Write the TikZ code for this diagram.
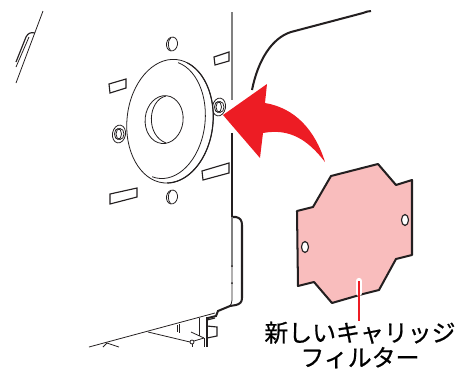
\documentclass[tikz,border=0pt]{standalone}
\usepackage{fontspec}
\usepackage{xcolor}
\usepackage{tikz}
\newfontfamily\cjkfont[FakeBold=0.6]{Noto Sans CJK JP}
\definecolor{arrowred}{HTML}{ED1C24}
\definecolor{filterpink}{HTML}{F9BDBD}
\definecolor{inkblack}{HTML}{231F20}
\tikzset{
  thinline/.style={inkblack, line width=0.45pt},
  midline/.style={inkblack, line width=0.65pt},
  heavyline/.style={inkblack, line width=1.15pt},
  grayline/.style={gray, line width=0.7pt},
  labeltext/.style={font=\cjkfont\fontsize{13.6}{14.6}\selectfont, inner sep=0pt, align=center},
}
\begin{document}
\begin{tikzpicture}[x=0.02cm,y=-0.02cm]
    \useasboundingbox (0,0) rectangle (468,369);
    % Upper left edge with slot
    \draw[thinline] (43,11) -- (16,83);
    \draw[midline] (16,62) -- (26,37) .. controls (28,33) and (31,32) .. (35,33);
    \draw[thinline] (16,67) -- (29,37);
    % Panel edge
    \draw[grayline] (232,12) -- (232,100);
    \draw[heavyline] (232,133) -- (232,217);
    \draw[heavyline] (232,217) -- (236,217) .. controls (240,218) and (242,220) .. (242,225) -- (242,298) .. controls (242,302) and (240,304) .. (236,305) -- (230,306) -- (218,311) -- (216,316) -- (208,318);
    \draw[grayline] (232,217) -- (232,266);
    \draw[thinline] (232,266) -- (232,300) .. controls (232,303) and (231,305) .. (229,307);
    \fill[inkblack] (232,266) circle (1) (232,283) circle (1);
    % Curved cover edge
    \draw[heavyline] (252,90) .. controls (258,60) and (272,38) .. (291,32) -- (363,13) .. controls (366,12) and (368,11) .. (371,11);
    % Slots in the panel
    \draw[midline] (109,84) -- (126,79) -- (126,88) -- (110,93) -- cycle;
    \draw[midline] (214,57) -- (229,52) -- (229,61) -- (215,65) -- cycle;
    \draw[midline] (202,171) -- (229,163) -- (229,173) -- (203,180) -- cycle;
    \draw[midline] (110,194) -- (137,188) -- (137,197) -- (110,204) -- cycle;
    % Screws
    \foreach \sx/\sy in {172/44,172/197} {
      \draw[thinline, rotate around={-10:(\sx,\sy)}] (\sx,\sy) ellipse (5.5 and 7);
      \draw[thinline] (\sx-1,\sy-6.5) .. controls (\sx-5,\sy-3) and (\sx-4,\sy+4) .. (\sx-1.5,\sy+6.5);
    }
    \foreach \sx/\sy in {119/134,219/107} {
      \draw[thinline, rotate around={-10:(\sx,\sy)}] (\sx,\sy) ellipse (6.5 and 9);
      \draw[thinline] (\sx+1,\sy) ellipse (4 and 5.5);
      \draw[thinline] (\sx-1,\sy) ellipse (3.5 and 5.5);
    }
    % Round flange
    \begin{scope}[rotate around={-6:(168,121)}]
      \draw[thinline, fill=white] (170,121) ellipse (43 and 62);
      \draw[midline] (170,121) ++(-75:43 and 62) arc[start angle=-75, end angle=85, x radius=43, y radius=62];
      \draw[thinline] (165,120) ++(-80:40 and 59) arc[start angle=-80, end angle=100, x radius=40, y radius=59];
      \draw[thinline] (164,120) ellipse (19 and 24);
    \end{scope}
    \draw[thinline] (166,96) .. controls (148,100) and (145,135) .. (166,143);
    % Lower frame
    \draw[thinline] (89,347) -- (215,313);
    \draw[thinline] (148,332) -- (190,342);
    \draw[thinline] (194,341) -- (204,338);
    \draw[thinline] (191,332) -- (204,338);
    \draw[thinline] (192,342) circle (2);
    \draw[thinline] (192,344) -- (192,347);
    \draw[thinline] (199,318) -- (199,336);
    \draw[thinline] (177,325) -- (177,332);
    \draw[thinline] (179,324) -- (179,333);
    \draw[thinline] (107,343) -- (103,347);
    \draw[thinline] (107,343) -- (119,347);
    \draw[thinline] (204,338) -- (204,347);
    \draw[midline] (207,317) -- (207,347);
    \draw[midline] (207,326) -- (217,327) -- (217,336) -- (207,338);
    \draw[midline] (207,320) -- (215,318);
    % Red arrow
    \fill[arrowred] (223,115) -- (267,84) -- (265,103) .. controls (295,108) and (315,130) .. (325,162) .. controls (308,140) and (290,128) .. (263,133) -- (260,158) -- cycle;
    % New filter
    \draw[heavyline, fill=filterpink, line join=round] (331,176) -- (378,164) -- (396,185) -- (412,180) -- (412,255) -- (396,259) -- (379,290) -- (363,294) -- (332,303) -- (314,282) -- (298,286) -- (297,211) -- (313,207) -- cycle;
    \draw[midline, fill=white] (405,220) ellipse (3.5 and 5.5);
    \draw[midline, fill=white] (305,247) ellipse (3.5 and 5.5);
    % Label and leader
    \node[labeltext] (filterlabel) at (360,345) {新しいキャリッジ\\[-0.5pt]フィルター};
    \coordinate (leadertop) at (359,281);
    \draw[white, line width=3.6pt, line cap=round] (leadertop) -- (359,293);
    \draw[arrowred, line width=1pt] (leadertop) -- (filterlabel.north -| leadertop);
\end{tikzpicture}
\end{document}
